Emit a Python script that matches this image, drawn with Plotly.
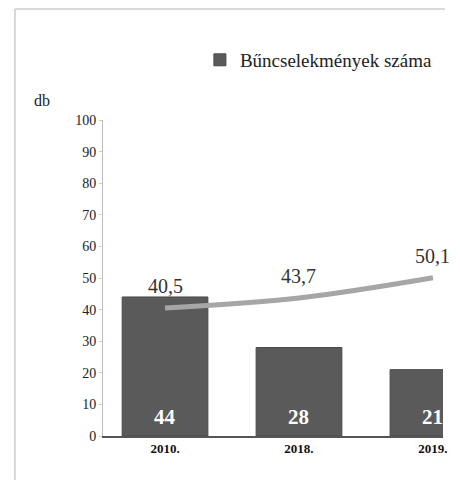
import plotly.graph_objects as go

categories = ["2010.", "2018.", "2019."]
bar_values = [44, 28, 21]
line_values = [40.5, 43.7, 50.1]
legend_name = "Bűncselekmények száma"
y_ticks = list(range(0, 101, 10))

SERIF = "'Liberation Serif', 'Times New Roman', 'DejaVu Serif', serif"

fig = go.Figure()
fig.add_trace(go.Bar(
    x=categories, y=bar_values, name=legend_name,
    marker=dict(color="#5a5a5a", line=dict(color="#4a4a4a", width=1)),
    width=0.64,
    showlegend=True,
))
fig.add_trace(go.Scatter(
    x=categories, y=line_values, mode="lines",
    line=dict(color="#a6a6a6", width=5, shape="spline"),
    showlegend=False,
))

annotations = [dict(text="db", x=-0.179, y=1.063, xref="paper", yref="paper",
                    showarrow=False, xanchor="center", yanchor="middle",
                    font=dict(family=SERIF, size=16, color="#222"))]
for i, v in enumerate(line_values):
    annotations.append(dict(
        x=i, y=v, xref="x", yref="y", text=f"{v:.1f}".replace(".", ","),
        showarrow=False, xanchor="center", yanchor="bottom", yshift=9,
        font=dict(family=SERIF, size=20, color="#333333")))
for i, v in enumerate(bar_values):
    annotations.append(dict(
        x=i, y=0, xref="x", yref="y", text=f"<b>{v}</b>",
        showarrow=False, xanchor="center", yanchor="bottom", yshift=5,
        font=dict(family=SERIF, size=21, color="white")))

fig.update_layout(
    width=452, height=472,
    margin=dict(l=95, r=17, t=112, b=44),
    paper_bgcolor="white", plot_bgcolor="white",
    separators=", ",
    font=dict(family=SERIF, color="#222222"),
    legend=dict(x=0.285, y=1.19, xanchor="left", yanchor="middle",
                orientation="h", font=dict(family=SERIF, size=19, color="#222"),
                bgcolor="rgba(0,0,0,0)", itemwidth=30),
    xaxis=dict(type="category", range=[-0.463, 2.075], showgrid=False, zeroline=False,
               showline=True, linecolor="#555555", linewidth=1.5, ticks="",
               tickfont=dict(family=SERIF, size=13, color="#111", weight="bold")),
    yaxis=dict(range=[0, 100], tickvals=y_ticks, showgrid=False, zeroline=False,
               showline=True, linecolor="#bbbbbb", linewidth=1,
               ticks="outside", ticklen=3, tickcolor="#cccccc",
               tickfont=dict(family=SERIF, size=14, color="#222")),
    annotations=annotations,
    shapes=[
        dict(type="line", xref="paper", yref="paper", x0=-0.259, x1=1.006, y0=1.351, y1=1.351,
             line=dict(color="#cccccc", width=1.5)),
        dict(type="line", xref="paper", yref="paper", x0=-0.259, x1=-0.259, y0=1.351, y1=-0.16,
             line=dict(color="#cccccc", width=1.5)),
    ],
)

fig.write_html("out.html")
